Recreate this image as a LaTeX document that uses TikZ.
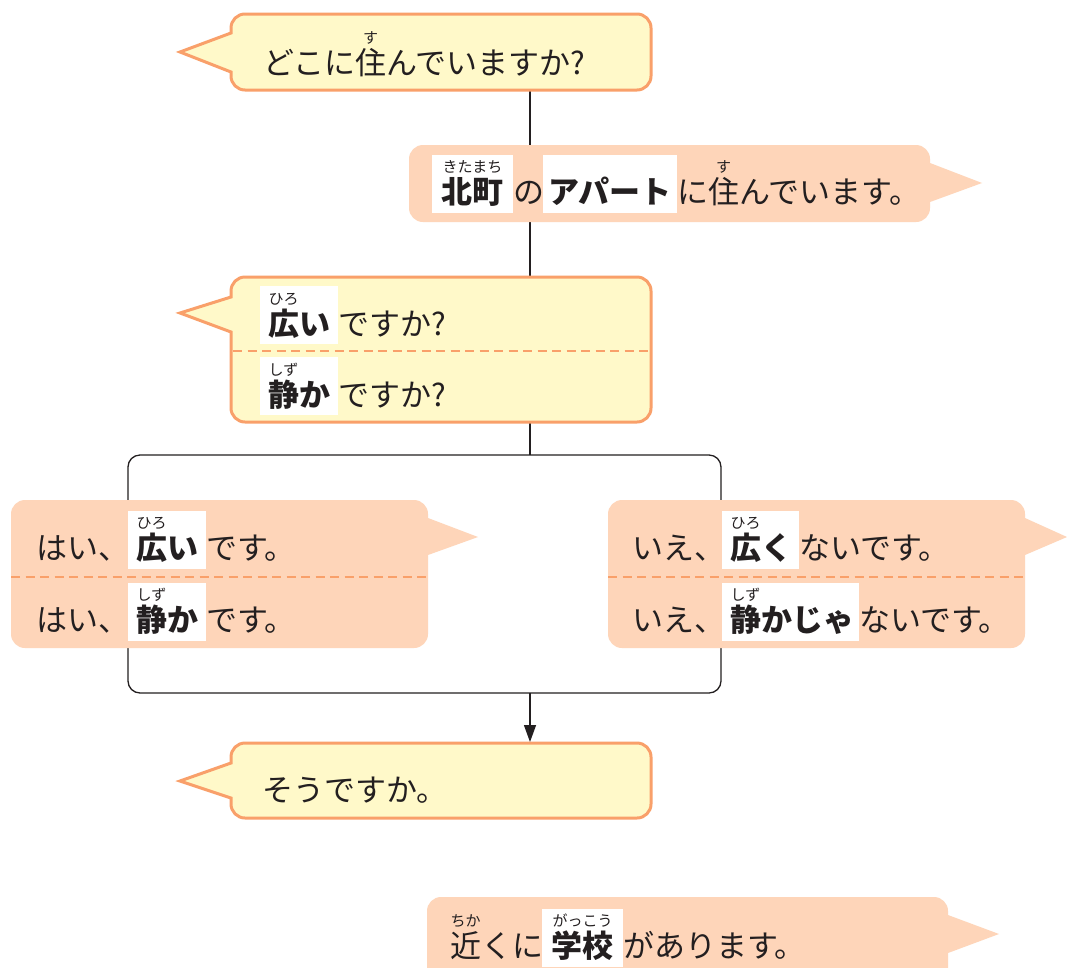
\documentclass[tikz,border=0pt]{standalone}
\usepackage{fontspec}
\setmainfont{Noto Sans CJK JP}
\usetikzlibrary{arrows.meta}
\definecolor{yel}{HTML}{FFF9C9}
\definecolor{org}{HTML}{F9A06A}
\definecolor{pch}{HTML}{FED5B9}
\definecolor{ink}{HTML}{231F20}
\newcommand\bR{14}
% left-tail bubble: style, x0,y0,x1,y1, tail-top-y, tail-bottom-y, tip x, tip y
\newcommand\bubL[9]{%
 \path[#1] (#8,#9) -- (#2,#6) -- (#2,{#3+\bR})
  .. controls (#2,{#3+0.45*\bR}) and ({#2+0.45*\bR},#3) .. ({#2+\bR},#3)
  -- ({#4-\bR},#3)
  .. controls ({#4-0.45*\bR},#3) and (#4,{#3+0.45*\bR}) .. (#4,{#3+\bR})
  -- (#4,{#5-\bR})
  .. controls (#4,{#5-0.45*\bR}) and ({#4-0.45*\bR},#5) .. ({#4-\bR},#5)
  -- ({#2+\bR},#5)
  .. controls ({#2+0.45*\bR},#5) and (#2,{#5-0.45*\bR}) .. (#2,{#5-\bR})
  -- (#2,#7) -- cycle;}
% right-tail bubble
\newcommand\bubR[9]{%
 \path[#1] (#8,#9) -- (#4,#7) -- (#4,{#5-\bR})
  .. controls (#4,{#5-0.45*\bR}) and ({#4-0.45*\bR},#5) .. ({#4-\bR},#5)
  -- ({#2+\bR},#5)
  .. controls ({#2+0.45*\bR},#5) and (#2,{#5-0.45*\bR}) .. (#2,{#5-\bR})
  -- (#2,{#3+\bR})
  .. controls (#2,{#3+0.45*\bR}) and ({#2+0.45*\bR},#3) .. ({#2+\bR},#3)
  -- ({#4-\bR},#3)
  .. controls ({#4-0.45*\bR},#3) and (#4,{#3+0.45*\bR}) .. (#4,{#3+\bR})
  -- (#4,#6) -- cycle;}
\tikzset{
 ybub/.style={fill=yel, draw=org, line width=3pt},
 pbub/.style={fill=pch},
 txt/.style={inner sep=0pt, outer sep=0pt, anchor=base west, text=ink, font=\fontsize{31}{31}\selectfont},
 btxt/.style={txt, font=\fontsize{31}{31}\selectfont\bfseries},
 ruby/.style={inner sep=0pt, outer sep=0pt, anchor=base, text=ink, font=\fontsize{15}{15}\selectfont, yshift=31pt},
 wbox/.style={fill=white, inner sep=0pt, outer sep=0pt, anchor=north west, minimum height=58pt},
 conn/.style={draw=ink, line width=1.3pt},
 sep/.style={draw=org, line width=2pt, dash pattern=on 9pt off 5.5pt}
}
\begin{document}
\begin{tikzpicture}[x=1pt, y=-1pt]
\clip (0,0) rectangle (1067,967);
\fill[white] (0,0) rectangle (1067,967);
% connectors
\coordinate (q1b) at (530,90);
\coordinate (frT) at (530,455);
\coordinate (frB) at (530,693);
\coordinate (b4t) at (530,742);
\draw[conn] (q1b) -- (frT);
\draw[conn, rounded corners=12pt] (128,455) rectangle (721,693);
\draw[conn, -{Triangle[length=17pt, width=12pt]}] (frB) -- (b4t);
% bubble 1
\bubL{ybub}{231}{14}{651}{90}{33}{72}{180}{52}
\node[txt] (a1) at (263,74) {どこに};
\node[txt] (a2) at (a1.base east) {住};
\node[txt] (a3) at (a2.base east) {んでいますか?};
\node[ruby] (a2r) at (a2.base) {す};
% bubble 2
\bubR{pbub}{409}{145}{930}{222}{163}{202}{982}{183}
\node[wbox, minimum width=81pt] (kbx) at (432,155) {};
\node[btxt, anchor=base] (k1) at (472.5,203) {北町};
\node[ruby] (k1r) at (k1.base) {きたまち};
\node[txt] (k2) at (513,203) {の};
\node[wbox, minimum width=134pt] (abx) at (543,155) {};
\node[btxt, anchor=base] (k3) at (610,203) {アパート};
\node[txt] (k4) at (677,203) {に};
\node[txt] (k5) at (k4.base east) {住};
\node[txt] (k6) at (k5.base east) {んでいます。};
\node[ruby] (k5r) at (k5.base) {す};
% bubble 3
\bubL{ybub}{231}{277}{651}{422}{297}{332}{180}{313}
\draw[sep] (233,351) -- (650,351);
\node[wbox, minimum width=78pt] (hbx) at (260,286) {};
\node[btxt] (h1) at (268,335) {広};
\node[btxt] (h2) at (h1.base east) {い};
\node[ruby] (h1r) at (h1.base) {ひろ};
\node[txt] (h3) at (338,335) {ですか?};
\node[wbox, minimum width=78pt] (sbx) at (260,357) {};
\node[btxt] (s1) at (268,406) {静};
\node[btxt] (s2) at (s1.base east) {か};
\node[ruby] (s1r) at (s1.base) {しず};
\node[txt] (s3) at (338,406) {ですか?};
% left answer bubble
\bubR{pbub}{11}{500}{428}{648}{518}{555}{478}{537}
\draw[sep] (11,577) -- (426,577);
\node[txt] (l1) at (36,559) {はい、};
\node[wbox, minimum width=78pt] (lbx1) at (128,511) {};
\node[btxt] (l2) at (136,559) {広};
\node[btxt] (l3) at (l2.base east) {い};
\node[ruby] (l2r) at (l2.base) {ひろ};
\node[txt] (l4) at (206,559) {です。};
\node[txt] (m1) at (36,631) {はい、};
\node[wbox, minimum width=78pt] (lbx2) at (128,583) {};
\node[btxt] (m2) at (136,631) {静};
\node[btxt] (m3) at (m2.base east) {か};
\node[ruby] (m2r) at (m2.base) {しず};
\node[txt] (m4) at (206,631) {です。};
% right answer bubble
\bubR{pbub}{608}{500}{1025}{648}{518}{555}{1067}{537}
\draw[sep] (608,577) -- (1023,577);
\node[txt] (r1) at (632,559) {いえ、};
\node[wbox, minimum width=77pt] (rbx1) at (722,511) {};
\node[btxt] (r2) at (730,559) {広};
\node[btxt] (r3) at (r2.base east) {く};
\node[ruby] (r2r) at (r2.base) {ひろ};
\node[txt] (r4) at (799,559) {ないです。};
\node[txt] (n1) at (632,631) {いえ、};
\node[wbox, minimum width=137pt] (rbx2) at (722,583) {};
\node[btxt] (n2) at (730,631) {静};
\node[btxt] (n3) at (n2.base east) {かじゃ};
\node[ruby] (n2r) at (n2.base) {しず};
\node[txt] (n4) at (859,631) {ないです。};
% bubble 4
\bubL{ybub}{231}{743}{651}{818}{763}{798}{180}{781}
\node[txt] (e1) at (262,801) {そうですか。};
% bottom bubble
\bubR{pbub}{427}{897}{948}{1000}{915}{953}{999}{934}
\node[txt] (c1) at (450,957) {近};
\node[txt] (c2) at (c1.base east) {くに};
\node[ruby] (c1r) at (c1.base) {ちか};
\node[wbox, minimum width=81pt] (cbx) at (542,909) {};
\node[btxt, anchor=base] (c3) at (582.5,957) {学校};
\node[ruby] (c3r) at (c3.base) {がっこう};
\node[txt] (c4) at (623,957) {があります。};
\end{tikzpicture}
\end{document}
